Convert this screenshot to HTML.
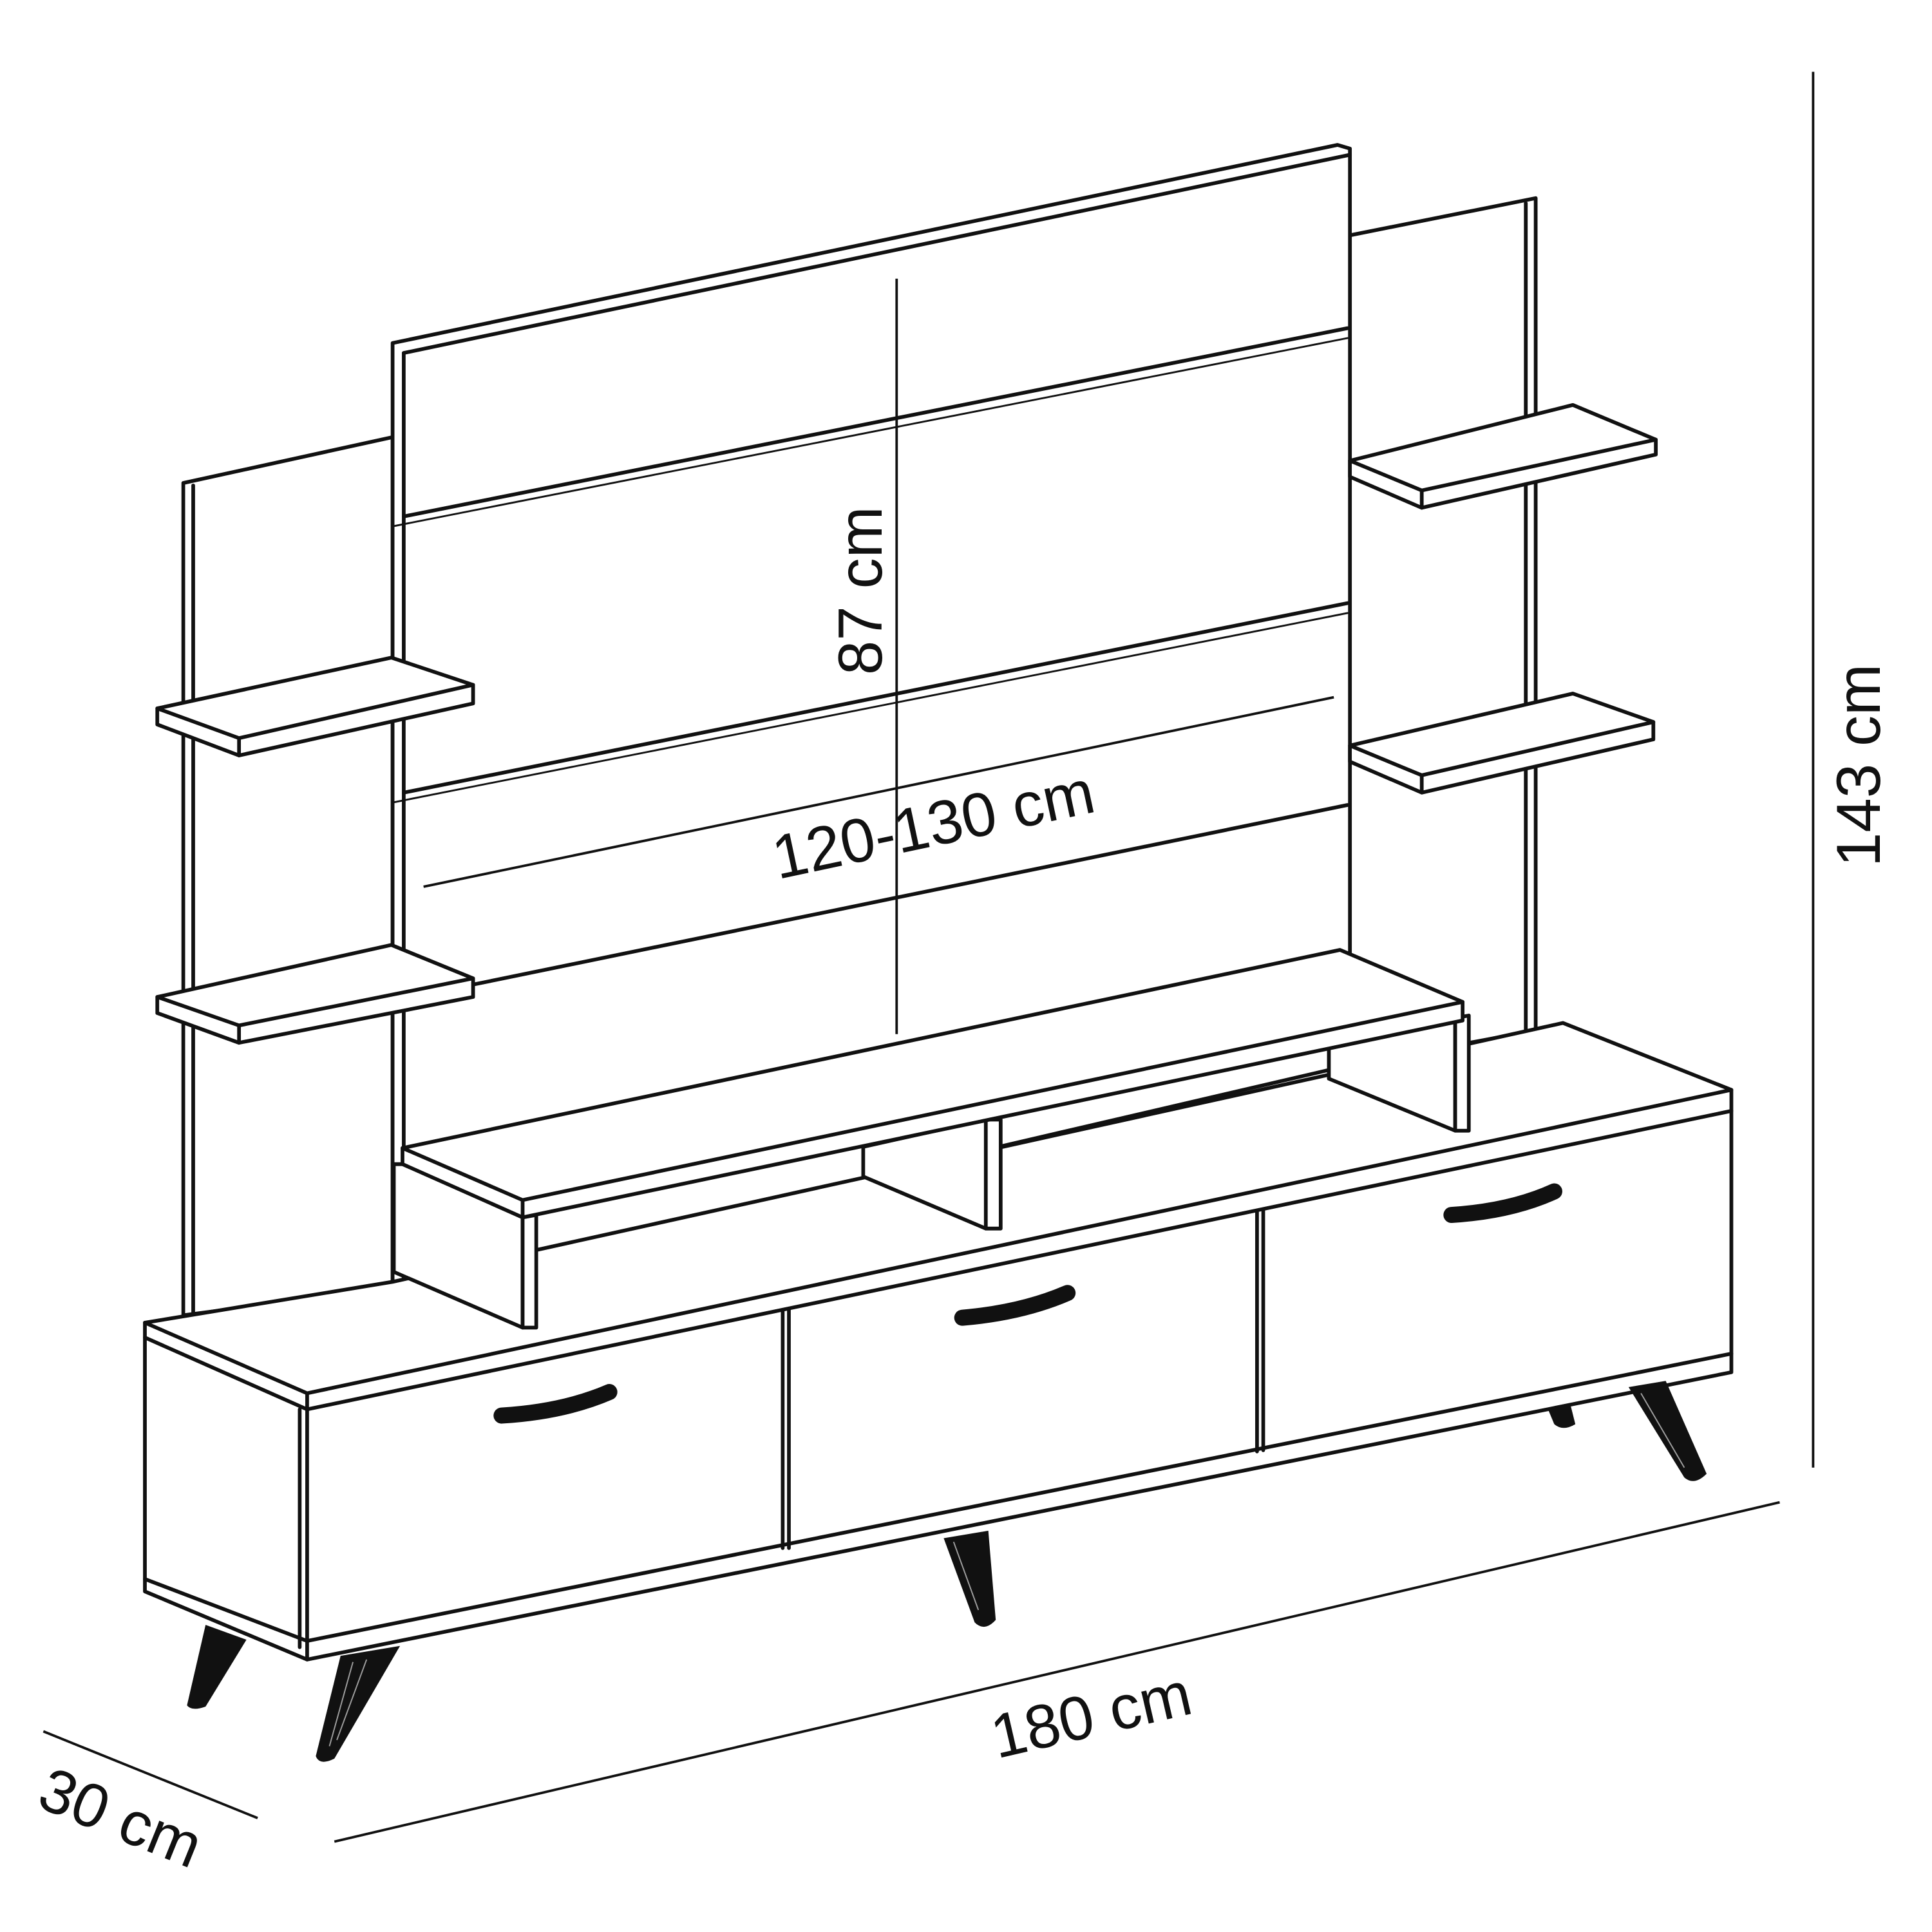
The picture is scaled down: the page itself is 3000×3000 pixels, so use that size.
<!DOCTYPE html>
<html><head><meta charset="utf-8"><style>
html,body{margin:0;padding:0;background:#fff}
svg{display:block}
text{font-family:"Liberation Sans",sans-serif;fill:#111}
</style></head><body>
<svg width="3000" height="3000" viewBox="0 0 1560 1560" xmlns="http://www.w3.org/2000/svg">
<g fill="#fff" stroke="#111" stroke-width="3" stroke-linejoin="round" stroke-linecap="round">
<!-- left side panel -->
<polygon points="148,390 317,353 317,1040 148,1062"/>
<line x1="156" y1="392" x2="156" y2="1060"/>
<!-- right side panel -->
<polygon points="1090,190 1240,160 1240,832 1090,860"/>
<line x1="1232" y1="164" x2="1232" y2="832"/>
<!-- main back panel -->
<polygon points="317,277 1080,117 1090,120 1090,860 317,1040"/>
<line x1="326" y1="285" x2="1090" y2="125"/>
<line x1="326" y1="285" x2="326" y2="1035"/>
<line x1="326" y1="417" x2="1088" y2="265"/>
<line x1="317" y1="425" x2="1088" y2="273" stroke-width="1.5"/>
<line x1="326" y1="640" x2="1088" y2="487"/>
<line x1="317" y1="648" x2="1088" y2="495" stroke-width="1.5"/>
<line x1="382" y1="795" x2="1088" y2="650"/>
<!-- left shelves -->
<polygon points="127,572 316,531 382,553 382,568 193,610 127,585"/>
<polyline points="127,572 193,596 382,553" fill="none"/>
<line x1="193" y1="596" x2="193" y2="610"/>
<polygon points="127,805 316,763 382,790 382,805 193,842 127,818"/>
<polyline points="127,805 193,828 382,790" fill="none"/>
<line x1="193" y1="828" x2="193" y2="842"/>
<!-- right shelves -->
<polygon points="1090,372 1270,327 1337,355 1337,367 1148,410 1090,385"/>
<polyline points="1090,372 1148,396 1337,355" fill="none"/>
<line x1="1148" y1="396" x2="1148" y2="410"/>
<polygon points="1090,602 1270,560 1335,583 1335,597 1148,640 1090,615"/>
<polyline points="1090,602 1148,626 1335,583" fill="none"/>
<line x1="1148" y1="626" x2="1148" y2="640"/>
<!-- cabinet -->
<polygon points="117,1068 317,1035 1262,826 1398,880 1398,1108 248,1340 117,1285"/>
<polyline points="117,1068 248,1125 1398,880" fill="none"/>
<polyline points="117,1080 248,1138 1398,897" fill="none"/>
<line x1="248" y1="1125" x2="248" y2="1340"/>
<line x1="242" y1="1138" x2="242" y2="1330"/>
<polyline points="117,1275 248,1325 1398,1093" fill="none"/>
<line x1="632" y1="1058" x2="632" y2="1250"/>
<line x1="637" y1="1057" x2="637" y2="1250"/>
<line x1="1015" y1="978" x2="1015" y2="1172"/>
<line x1="1020" y1="977" x2="1020" y2="1171"/>
<!-- TV shelf -->
<polygon points="326,940 422,983 422,1072 318,1027 318,940"/>
<polygon points="422,983 433,981 433,1072 422,1072"/>
<polygon points="697,926 796,904 808,904 808,992 796,992 697,950"/>
<line x1="796" y1="904" x2="796" y2="992"/>
<polygon points="1073,845 1175,822 1175,913 1073,871"/>
<polygon points="1175,822 1186,820 1186,913 1175,913"/>
<polygon points="325,927 1082,767 1181,809 1181,824 422,983 325,940"/>
<polyline points="325,927 422,969 1181,809" fill="none"/>
<line x1="422" y1="969" x2="422" y2="983"/>
</g>
<!-- legs -->
<g fill="#111">
<path d="M166,1312 L199,1324 L166,1378 Q155,1382 151,1377 Z"/>
<path d="M275,1337 L323,1329 L270,1420 Q258,1426 255,1418 Z"/>
<path d="M762,1242 L798,1236 L804,1308 Q795,1318 787,1310 Z"/>
<path d="M1315,1120 L1345,1115 L1378,1190 Q1368,1200 1360,1193 Z"/>
<path d="M1250,1138 L1268,1134 L1272,1150 Q1262,1156 1255,1150 Z"/>
</g>
<g stroke="#fff" stroke-width="1" opacity="0.6">
<line x1="285" y1="1342" x2="266" y2="1410"/><line x1="296" y1="1340" x2="272" y2="1405"/>
<line x1="770" y1="1245" x2="790" y2="1300"/><line x1="1325" y1="1125" x2="1360" y2="1185"/>
</g>
<!-- handles -->
<g fill="none" stroke="#111" stroke-width="13" stroke-linecap="round">
<path d="M405,1143 Q455,1140 492,1124"/>
<path d="M777,1064 Q825,1060 862,1044"/>
<path d="M1172,981 Q1220,978 1255,962"/>
</g>
<!-- dimension lines -->
<g stroke="#111" stroke-width="2">
<line x1="724" y1="225" x2="724" y2="835"/>
<line x1="342" y1="716" x2="1077" y2="563"/>
<line x1="1464" y1="58" x2="1464" y2="1185"/>
<line x1="270" y1="1487" x2="1437" y2="1213"/>
<line x1="35" y1="1398" x2="208" y2="1468"/>
</g>
<g font-size="50">
<text transform="translate(712,545) rotate(-90)">87 cm</text>
<text transform="translate(628,710) rotate(-12)">120-130 cm</text>
<text transform="translate(1518,700) rotate(-90)">143 cm</text>
<text transform="translate(805,1420) rotate(-13)">180 cm</text>
<text transform="translate(28,1458) rotate(22)">30 cm</text>
</g>
</svg>
</body></html>
